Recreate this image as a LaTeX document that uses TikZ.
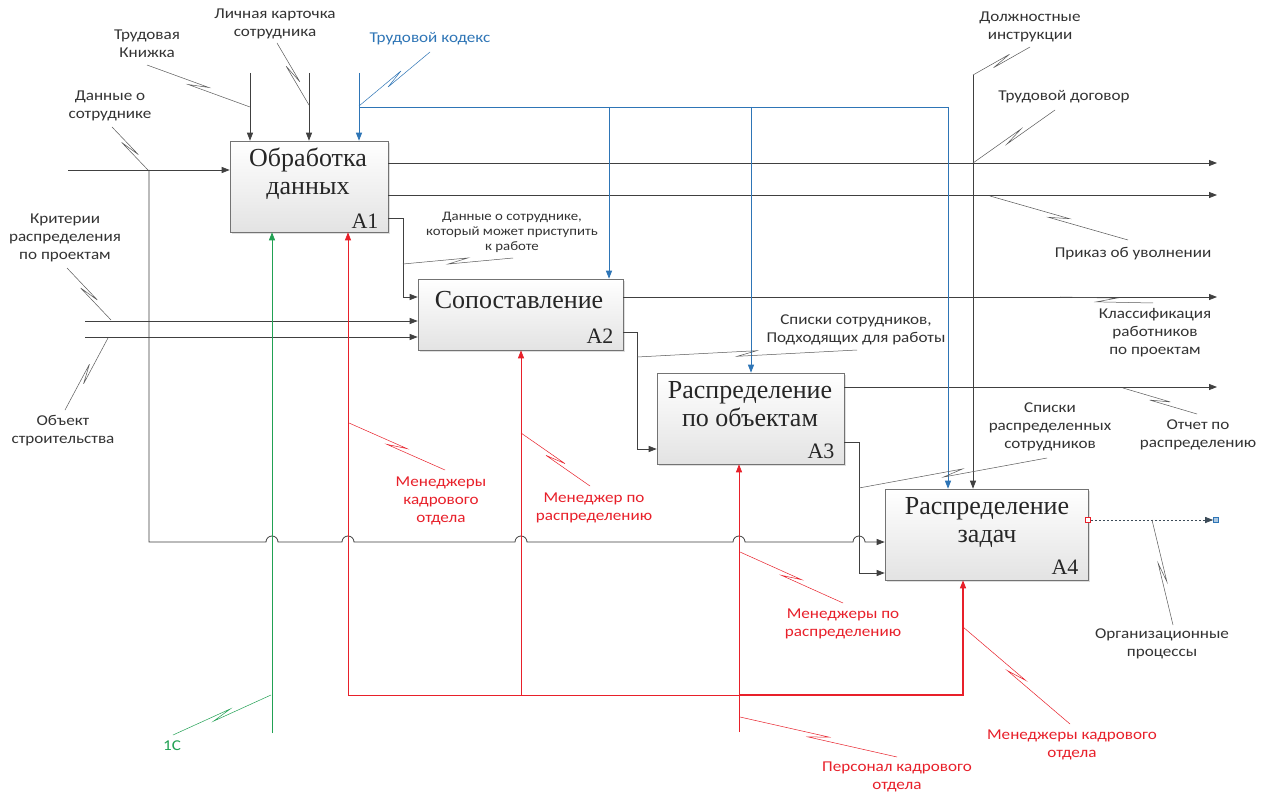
\documentclass[tikz,border=0pt]{standalone}
\usepackage{fontspec}
\setmainfont{Carlito}
\newfontfamily\labfont[FakeStretch=1.14]{Carlito}
\newfontfamily\boxfont{Liberation Serif}
\usetikzlibrary{arrows.meta,calc,shadows}

\definecolor{ln}{HTML}{404040}
\definecolor{txt}{HTML}{333333}
\definecolor{idblue}{HTML}{2E75B6}
\definecolor{idred}{HTML}{E8202A}
\definecolor{idgreen}{HTML}{21A153}

\tikzset{
  fn/.style={line width=0.8pt, draw=ln},
  tip/.style={-{Triangle[length=8pt,width=6pt]}},
  arr/.style={fn, tip},
  bluefn/.style={line width=0.9pt, draw=idblue},
  bluearr/.style={bluefn, tip},
  redfn/.style={line width=0.7pt, draw=idred},
  redarr/.style={redfn, tip},
  greenarr/.style={line width=0.8pt, draw=idgreen, tip},
  leader/.style={line width=0.5pt, draw=gray!70!black},
  box/.style={draw=black!55, line width=0.6pt, top color=white, bottom color=black!11,
    drop shadow={shadow xshift=2pt, shadow yshift=-2pt, opacity=0.25}, inner sep=0pt},
  title/.style={font=\boxfont\fontsize{26}{28}\selectfont, align=center, text=black!85, inner sep=0pt},
  idx/.style={font=\boxfont\fontsize{22}{24}\selectfont, text=black!85, inner sep=0pt},
  lab/.style={font=\labfont\fontsize{15}{18}\selectfont, align=center, text=txt, inner sep=0pt},
  small/.style={font=\labfont\fontsize{13}{15}\selectfont, align=center, text=txt, inner sep=0pt},
  redlab/.style={lab, text=idred},
  redsq/.style={draw=idred, fill=white, line width=0.6pt, minimum size=5pt, inner sep=0pt},
  bluesq/.style={draw=idblue, fill=idblue!40, line width=0.6pt, minimum size=5pt, inner sep=0pt},
}

% IDEF0 squiggle: a leader with a small zig-zag in its middle
\newcommand\leadr[3][]{%
  \draw[leader,#1] (#2) -- ($(#2)!0.5!(#3)!10pt!(#3)!2.5pt!90:(#3)$)
     -- ($(#2)!0.5!(#3)!-10pt!(#3)!2.5pt!-90:(#3)$) -- (#3);}

\begin{document}
\begin{tikzpicture}[x=1pt,y=-1pt]
\useasboundingbox (0,0) rectangle (1266,794);
\fill[white] (0,0) rectangle (1266,794);

% ---------- activity boxes ----------
\node[box, minimum width=158pt, minimum height=91pt] (A1) at (309,186.5) {};
\node[box, minimum width=205pt, minimum height=71pt] (A2) at (520.5,314.5) {};
\node[box, minimum width=187pt, minimum height=91pt] (A3) at (750.5,418.5) {};
\node[box, minimum width=203pt, minimum height=91pt] (A4) at (986.5,534.5) {};

\node[title] (T1) at (308,174) {Обработка\\данных};
\node[title] (T2) at (519,300) {Сопоставление};
\node[title] (T3) at (750,404) {Распределение\\по объектам};
\node[title] (T4) at (987,522) {Распределение\\задач};

\node[idx] (N1) at (365,221) {A1};
\node[idx] (N2) at (600,336) {A2};
\node[idx] (N3) at (821,451) {A3};
\node[idx] (N4) at (1065,567) {A4};

% ---------- inputs ----------
\coordinate (in1) at (68,170);
\coordinate (j1) at (149,170);
\coordinate (jb) at (149,542);
\draw[arr] (in1) -- (in1 -| A1.west);
\draw[arr] (j1) -- (jb)
  -- (266,542) arc[start angle=180, end angle=0, radius=6pt]
  -- (342,542) arc[start angle=180, end angle=0, radius=6pt]
  -- (515,542) arc[start angle=180, end angle=0, radius=6pt]
  -- (733,542) arc[start angle=180, end angle=0, radius=6pt]
  -- (853,542) arc[start angle=180, end angle=0, radius=6pt]
  -- (jb -| A4.west);

\coordinate (in2) at (85,321);
\coordinate (in3) at (85,337);
\draw[arr] (in2) -- (in2 -| A2.west);
\draw[arr] (in3) -- (in3 -| A2.west);

% ---------- outputs ----------
\coordinate (o1) at (1217,163);
\coordinate (o2) at (1217,195);
\coordinate (o3) at (1217,297);
\coordinate (o4) at (1217,387);
\draw[arr] (o1 -| A1.east) -- (o1);
\draw[arr] (o2 -| A1.east) -- (o2);
\draw[arr] (o3 -| A2.east) -- (o3);
\draw[arr] (o4 -| A3.east) -- (o4);

\coordinate (q1) at (403,218);
\coordinate (k2) at (403,297);
\draw[arr] (q1 -| A1.east) -- (q1) -- (k2) -- (k2 -| A2.west);
\coordinate (q2) at (637,332);
\coordinate (k3) at (637,449);
\draw[arr] (q2 -| A2.east) -- (q2) -- (k3) -- (k3 -| A3.west);
\coordinate (q3) at (859,442);
\coordinate (k4) at (859,573);
\draw[arr] (q3 -| A3.east) -- (q3) -- (k4) -- (k4 -| A4.west);

\node[redsq] (s1) at (1088,520) {};
\node[bluesq] (s2) at (1216,520) {};
\draw[line width=0.8pt, draw=ln!80!idblue, dashed, dash pattern=on 2.5pt off 1.5pt, tip] (s1) -- (s2);

% ---------- controls ----------
\coordinate (c1) at (250,73);
\coordinate (c2) at (309,73);
\coordinate (c3) at (359,73);
\coordinate (c4) at (973,75);
\draw[arr] (c1) -- (c1 |- A1.north);
\draw[arr] (c2) -- (c2 |- A1.north);
\draw[bluearr] (c3) -- (c3 |- A1.north);
\coordinate (b0) at (359,107);
\coordinate (b1) at (948,107);
\coordinate (b2) at (609,107);
\coordinate (b3) at (751,107);
\draw[bluefn] (b0) -- (b1);
\draw[bluearr] (b2) -- (b2 |- A2.north);
\draw[bluearr] (b3) -- (b3 |- A3.north);
\draw[bluearr] (b1) -- (b1 |- A4.north);
\draw[arr] (c4) -- (c4 |- A4.north);

% ---------- mechanisms ----------
\coordinate (m1) at (272,733);
\draw[greenarr] (m1) -- (m1 |- A1.south);
\coordinate (m2) at (739,732);
\draw[redarr] (m2) -- (m2 |- A3.south);
\coordinate (r1) at (348,695);
\coordinate (r2) at (521,695);
\coordinate (r3) at (739,695);
\coordinate (r4) at (963,695);
\draw[redfn] (r1) -- (r3);
\draw[redarr] (r1) -- (r1 |- A1.south);
\draw[redarr] (r2) -- (r2 |- A2.south);
\draw[redarr, line width=1.2pt] (r3) -- (r4) -- (r4 |- A4.south);

% ---------- labels ----------
\node[lab] (L1) at (110,106) {Данные о\\сотруднике};
\node[lab] (L2) at (147,44) {Трудовая\\Книжка};
\node[lab] (L3) at (275,23.5) {Личная карточка\\сотрудника};
\node[lab, text=idblue] (L4) at (430,39) {Трудовой кодекс};
\node[lab] (L5) at (1030,26.5) {Должностные\\инструкции};
\node[lab] (L6) at (1064,97) {Трудовой договор};
\node[lab] (L7) at (1133,254) {Приказ об уволнении};
\node[lab] (L8) at (65,238) {Критерии\\распределения\\по проектам};
\node[lab] (L9) at (63,431) {Объект\\строительства};
\node[small] (L10) at (512,232) {Данные о сотруднике,\\который может приступить\\к работе};
\node[lab] (L11) at (1155,333) {Классификация\\работников\\по проектам};
\node[lab] (L12) at (856,330) {Списки сотрудников,\\Подходящих для работы};
\node[lab] (L13) at (1198,435) {Отчет по\\распределению};
\node[lab] (L14) at (1050,427) {Списки\\распределенных\\сотрудников};
\node[lab] (L15) at (1162,644) {Организационные\\процессы};
\node[redlab] (L16) at (441,501) {Менеджеры\\кадрового\\отдела};
\node[redlab] (L17) at (594,508) {Менеджер по\\распределению};
\node[redlab] (L18) at (843,624) {Менеджеры по\\распределению};
\node[redlab] (L19) at (897,777) {Персонал кадрового\\отдела};
\node[redlab] (L20) at (1072,745) {Менеджеры кадрового\\отдела};
\node[lab, text=idgreen] (L21) at (172,746) {1С};

% ---------- leaders ----------
\coordinate (e1a) at (112,127);   \coordinate (e1b) at (148,170);
\coordinate (e2a) at (147,65);    \coordinate (e2b) at (250,107);
\coordinate (e3a) at (277,43);    \coordinate (e3b) at (309,105);
\coordinate (e4a) at (430,52);    \coordinate (e4b) at (359,106);
\coordinate (e5a) at (1030,47);   \coordinate (e5b) at (973,75);
\coordinate (e6a) at (1055,110);  \coordinate (e6b) at (973,163);
\coordinate (e7a) at (990,196);   \coordinate (e7b) at (1128,240);
\coordinate (e8a) at (67,268);    \coordinate (e8b) at (111,320);
\coordinate (e9a) at (65,410);    \coordinate (e9b) at (108,338);
\coordinate (e10a) at (403,264);  \coordinate (e10b) at (513,258);
\coordinate (e11a) at (1060,297); \coordinate (e11b) at (1153,303);
\coordinate (e12a) at (637,357);  \coordinate (e12b) at (857,350);
\coordinate (e13a) at (1123,388); \coordinate (e13b) at (1197,414);
\coordinate (e14a) at (859,488);  \coordinate (e14b) at (1047,458);
\coordinate (e15a) at (1152,520); \coordinate (e15b) at (1173,625);
\coordinate (e16a) at (349,423);  \coordinate (e16b) at (445,470);
\coordinate (e17a) at (521,433);  \coordinate (e17b) at (590,486);
\coordinate (e18a) at (740,552);  \coordinate (e18b) at (843,603);
\coordinate (e19a) at (740,717);  \coordinate (e19b) at (897,757);
\coordinate (e20a) at (963,627);  \coordinate (e20b) at (1070,724);
\coordinate (e21a) at (271,695);  \coordinate (e21b) at (173,735);

\leadr{e1a}{e1b}
\leadr{e2a}{e2b}
\leadr{e3a}{e3b}
\leadr[draw=idblue]{e4a}{e4b}
\leadr{e5a}{e5b}
\leadr{e6a}{e6b}
\leadr{e7a}{e7b}
\leadr{e8a}{e8b}
\leadr{e9a}{e9b}
\leadr{e10a}{e10b}
\leadr{e11a}{e11b}
\leadr{e12a}{e12b}
\leadr{e13a}{e13b}
\leadr{e14a}{e14b}
\leadr{e15a}{e15b}
\leadr[draw=idred]{e16a}{e16b}
\leadr[draw=idred]{e17a}{e17b}
\leadr[draw=idred]{e18a}{e18b}
\leadr[draw=idred]{e19a}{e19b}
\leadr[draw=idred]{e20a}{e20b}
\leadr[draw=idgreen]{e21a}{e21b}
\end{tikzpicture}
\end{document}
